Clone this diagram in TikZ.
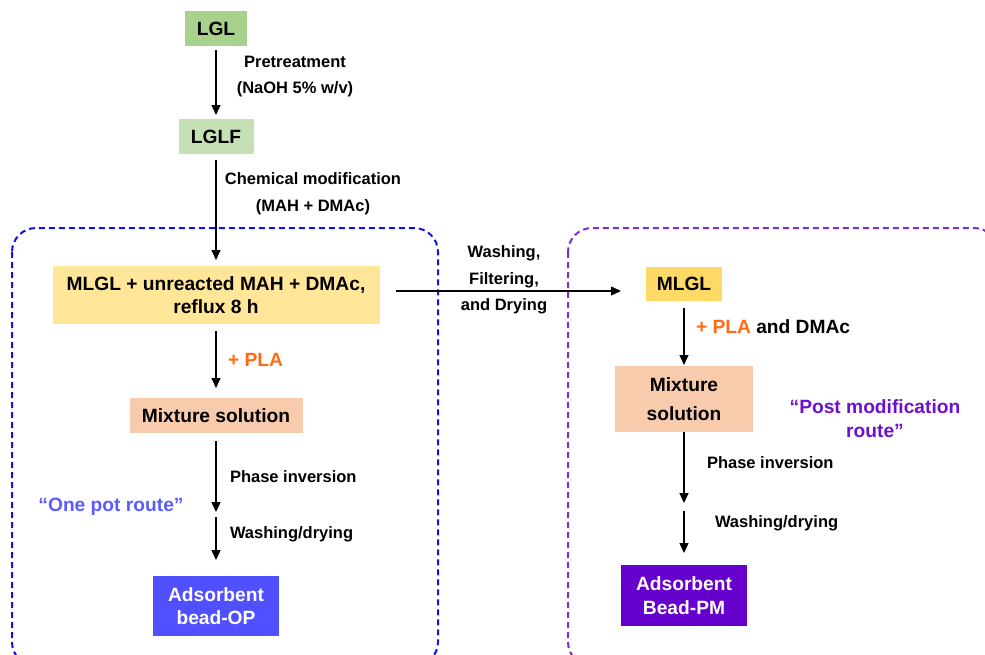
\documentclass[tikz,border=0pt]{standalone}
\usepackage{fontspec}
\setmainfont{Liberation Sans}
\usetikzlibrary{positioning,arrows.meta}
\definecolor{lglgreen}{HTML}{A9D18E}
\definecolor{lglfgreen}{HTML}{C5E0B4}
\definecolor{mlglyellow}{HTML}{FFE699}
\definecolor{mlglgold}{HTML}{FFD966}
\definecolor{mixpeach}{HTML}{F8CBAD}
\definecolor{opblue}{HTML}{5050FF}
\definecolor{pmpurple}{HTML}{6600CC}
\definecolor{plaorange}{HTML}{FF6A13}
\definecolor{onepotblue}{HTML}{5A5AFF}
\definecolor{postpurple}{HTML}{6E10CC}
\definecolor{opdash}{HTML}{1010E8}
\definecolor{pmdash}{HTML}{7A2FD0}
\begin{document}
\begin{tikzpicture}[x=1pt, y=-1pt, line width=1.3pt,
    main/.style = {draw=none, inner sep=0pt, outer sep=0pt, align=center, font=\fontsize{19.2}{23.5}\selectfont\bfseries},
    note/.style = {inner sep=0pt, outer sep=0pt, align=center, font=\fontsize{16.5}{26.5}\selectfont\bfseries},
    arr/.style = {-{Triangle[length=10pt,width=9pt]}, line width=1.3pt},
    route/.style = {line width=2pt, rounded corners=24pt, dash pattern=on 6pt off 4pt}]
    \useasboundingbox (0,0) rectangle (985,654);

    \draw[route, draw=opdash] (12,228) rectangle (438,666);
    \draw[route, draw=pmdash] (568,228) rectangle (998,666);

    \node[main, fill=lglgreen, minimum width=62pt, minimum height=35pt] (1) at (216,28.5) {LGL};
    \node[main, fill=lglfgreen, minimum width=75pt, minimum height=35pt] (2) [below=73pt of 1] {LGLF};
    \node[main, fill=mlglyellow, minimum width=327pt, minimum height=58pt] (3) [below=112pt of 2] {MLGL + unreacted MAH + DMAc,\\reflux 8 h};
    \node[main, fill=mixpeach, minimum width=173pt, minimum height=35pt] (4) [below=74pt of 3] {Mixture solution};
    \node[main, fill=opblue, text=white, minimum width=126pt, minimum height=60pt] (5) [below=143pt of 4] {Adsorbent\\bead-OP};

    \node[main, fill=mlglgold, minimum width=76pt, minimum height=34pt] (6) at (684,284) {MLGL};
    \node[main, fill=mixpeach, minimum width=138pt, minimum height=66pt] (7) [below=65pt of 6] {Mixture\\[6pt]solution};
    \node[main, fill=pmpurple, text=white, minimum width=126pt, minimum height=61pt] (8) [below=133pt of 7] {Adsorbent\\Bead-PM};

    \coordinate (9) at (216,514);
    \coordinate (10) at (684,507);

    \draw[arr, shorten <=4pt, shorten >=4pt] (1) -- (2);
    \draw[arr, shorten <=6pt, shorten >=6pt] (2) -- (3);
    \draw[arr, shorten <=7pt, shorten >=10pt] (3) -- (4);
    \draw[arr, shorten <=8pt, shorten >=2pt] (4) -- (9);
    \draw[arr, shorten <=3pt, shorten >=16pt] (9) -- (5);
    \draw[arr, shorten <=16pt, shorten >=25pt] ([yshift=4pt]3.east) -- ([yshift=4pt]3.east -| 6.west);
    \draw[arr, shorten <=7pt, shorten >=1pt] (6) -- (7);
    \draw[arr, shorten >=4pt] (7) -- (10);
    \draw[arr, shorten <=4pt, shorten >=12pt] (10) -- (8);

    \node[note] (11) at (295,76.5) {Pretreatment\\(NaOH 5\% w/v)};
    \node[note] (12) at (313,193.5) {Chemical modification\\(MAH + DMAc)};
    \node[note] (13) at (504,280) {Washing,\\Filtering,\\and Drying};
    \node[main, anchor=west, text=plaorange] (14) at (228,360) {+ PLA};
    \node[note, anchor=west] (15) at (230,477) {Phase inversion};
    \node[note, anchor=west] (16) at (230,534) {Washing/drying};
    \node[main, anchor=west] (17) at (696,327) {\textcolor{plaorange}{+ PLA} and DMAc};
    \node[note, anchor=west] (18) at (707,463) {Phase inversion};
    \node[note, anchor=west] (19) at (715,523) {Washing/drying};
    \node[main, text=onepotblue] (20) at (111,507) {“One pot route”};
    \node[main, text=postpurple] (21) at (875,418.5) {“Post modification\\route”};
\end{tikzpicture}
\end{document}
